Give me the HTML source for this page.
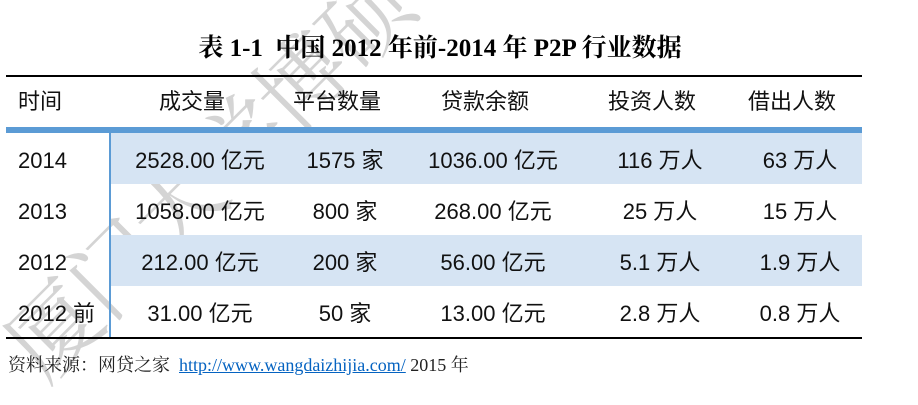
<!DOCTYPE html>
<html style="width:918px;height:405px;overflow:hidden"><head><meta charset="utf-8"><style>
body{margin:0;width:918px;height:405px;background:#fff;position:relative;overflow:hidden;font-family:"Liberation Sans","Noto Sans CJK SC",sans-serif;}
.abs{position:absolute;}
.title{left:0;width:880px;top:34px;text-align:center;font:bold 25px "Liberation Serif","Noto Serif CJK SC",serif;color:#000;line-height:30px;}
.cell{position:absolute;font-size:22px;line-height:26px;color:#111;white-space:nowrap;transform:translateX(-50%);}
.row{position:absolute;left:111px;width:751px;height:51px;}
</style></head><body>
<svg class="abs" style="left:0;top:0;overflow:hidden" width="918" height="405">
<text transform="translate(45,385) rotate(-45)" font-size="90" fill="#d4d4d4" font-family="Noto Serif CJK SC, serif" letter-spacing="-2">厦门大学博硕</text>
</svg>
<div class="abs title">表 1-1&nbsp; 中国 2012 年前-2014 年 P2P 行业数据</div>
<div class="abs" style="left:6px;top:75px;width:856px;height:1.5px;background:#000"></div>
<div class="abs" style="left:6px;top:127px;width:856px;height:6px;background:#5b9bd5"></div>
<div class="row" style="top:133px;background:#d6e4f3"></div>
<div class="row" style="top:235px;background:#d6e4f3"></div>
<div class="abs" style="left:109px;top:133px;width:2px;height:204px;background:#5b9bd5"></div>
<div class="abs" style="left:6px;top:337px;width:856px;height:1.5px;background:#000"></div>
<div id="t"></div>
<div class="abs" style="left:8px;top:353px;font:18px 'Liberation Serif','Noto Serif CJK SC',serif;line-height:24px;color:#222">资料来源：网贷之家&nbsp; <span style="color:#0563c1;text-decoration:underline">http://www.wangdaizhijia.com/</span> 2015 年</div>
<script>
const headers=["时间","成交量","平台数量","贷款余额","投资人数","借出人数"];
const rows=[["2014","2528.00 亿元","1575 家","1036.00 亿元","116 万人","63 万人"],
["2013","1058.00 亿元","800 家","268.00 亿元","25 万人","15 万人"],
["2012","212.00 亿元","200 家","56.00 亿元","5.1 万人","1.9 万人"],
["2012 前","31.00 亿元","50 家","13.00 亿元","2.8 万人","0.8 万人"]];
const t=document.getElementById('t');
const cx=[null,200,345,493,660,800];
function add(txt,x,y,left,name){const d=document.createElement('div');


d.className='cell';d.textContent=txt;d.style.top=y+'px';
if(left){d.style.left=x+'px';d.style.transform='none';}else d.style.left=x+'px';t.appendChild(d);}
headers.forEach((h,i)=>add(h,i?cx[i]-8:18,89,i==0,'header-cell'));
rows.forEach((r,ri)=>r.forEach((v,i)=>add(v,i?cx[i]:18,148+ri*51,i==0,'data-cell')));
</script>
</body></html>
